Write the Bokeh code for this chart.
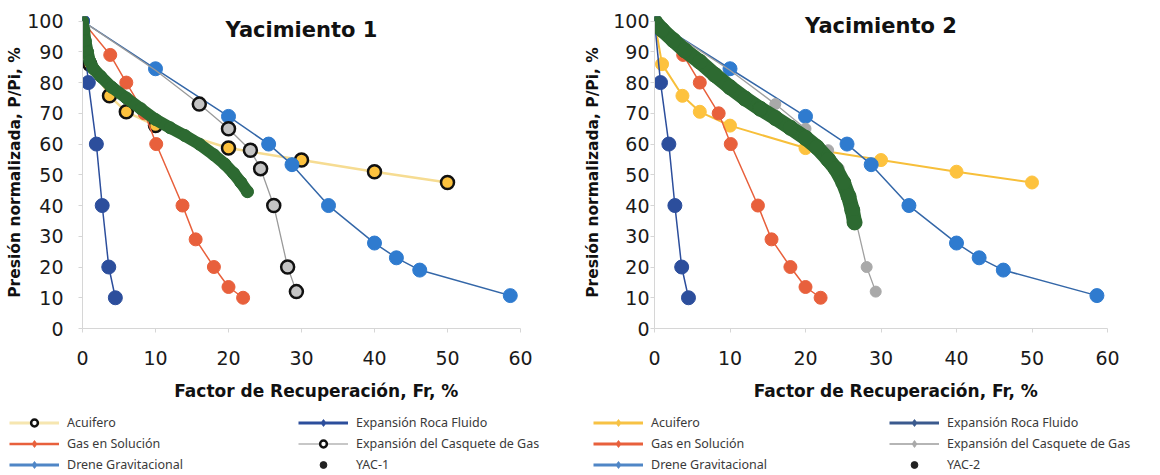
from bokeh.plotting import figure
from bokeh.layouts import row, column
from bokeh.models import Range1d, Legend, LegendItem, Label, FixedTicker
from bokeh.embed import file_html
from bokeh.resources import INLINE

# Curvas teóricas de mecanismos de empuje (Fr %, P/Pi %)
acuifero_fr = [0, 1, 3.7, 6, 10, 20, 30, 40, 50]
acuifero_p = [100, 86, 75.7, 70.5, 66, 58.7, 54.8, 51, 47.5]
gas_sol_fr = [0, 3.8, 6, 8.5, 10.1, 13.7, 15.5, 18, 20, 22]
gas_sol_p = [100, 89, 80, 70, 60, 40, 29, 20, 13.5, 10]
drene_fr = [0, 10, 20, 25.5, 28.7, 33.7, 40, 43, 46.2, 58.6]
drene_p = [100, 84.5, 69, 60, 53.3, 40, 27.8, 23, 19, 10.7]
roca_fr = [0, 0.8, 1.9, 2.7, 3.6, 4.5]
roca_p = [100, 80, 60, 40, 20, 10]
casquete_fr = [0, 10, 16, 20, 23, 24.4, 26.2, 28.1, 29.3]
casquete_p = [100, 84, 73, 65, 58, 52, 40, 20, 12]

# Historia de presión de cada yacimiento
yac1_fr = [0, 0.2, 0.4, 0.7, 1.0, 1.5, 2.5, 4, 6, 8, 10, 12, 14, 16, 18, 19.5, 20.7, 21.7, 22.6]
yac1_p = [100, 97, 93.5, 90, 87, 84.5, 82, 78.5, 75, 71.5, 68, 65.3, 62.8, 60, 56.5, 53.5, 50.5, 47.5, 44.5]
yac2_fr = [0, 1, 2.5, 4, 6, 8, 10, 12, 14, 16, 18, 20, 21.5, 23, 24, 25, 25.7, 26.2, 26.5]
yac2_p = [100, 97.2, 93.8, 90.5, 86.8, 82.5, 78.5, 74.8, 71.5, 68.5, 65.3, 62, 59, 55, 52, 47.5, 43, 38.5, 34.5]

x_ticks = [0, 10, 20, 30, 40, 50, 60]
y_ticks = [0, 10, 20, 30, 40, 50, 60, 70, 80, 90, 100]

FONT = "DejaVu Sans"
YELLOW = "#FDC23E"
RED = "#E8603C"
BLUE = "#2F7BCF"
NAVY = "#2C4E9C"
GRAY = "#C4C4C4"
GREEN = "#2D6A31"

CHART_H = 405
LEGEND_H = 70
NBSP = "\u00a0"


def base_figure(border_left, border_right, label_standoff, axis_label_standoff):
    p = figure(width=580, height=CHART_H, output_backend="svg", toolbar_location=None,
               x_range=Range1d(0, 60), y_range=Range1d(0, 101.5),
               min_border_left=border_left, min_border_right=border_right,
               min_border_top=16, min_border_bottom=CHART_H - 328)
    p.outline_line_color = None
    p.grid.visible = False
    p.background_fill_color = "white"
    p.border_fill_color = "white"
    p.xaxis.ticker = FixedTicker(ticks=x_ticks)
    p.yaxis.ticker = FixedTicker(ticks=y_ticks)
    p.yaxis.bounds = (0, 100)
    for ax in (p.xaxis, p.yaxis):
        ax.axis_line_color = "#d6d6d6"
        ax.major_tick_line_color = "#d6d6d6"
        ax.minor_tick_line_color = None
        ax.major_tick_in = 0
        ax.major_tick_out = 4
        ax.major_label_text_font = FONT
        ax.major_label_text_font_size = "19px"
        ax.major_label_text_color = "#1a1a1a"
        ax.axis_label_text_font = FONT
        ax.axis_label_text_font_style = "bold"
        ax.axis_label_text_color = "#111111"
    p.yaxis.axis_label = "Presión normalizada, P/Pi, %"
    p.yaxis.axis_label_text_font_size = "15.5px"
    p.yaxis.major_label_standoff = label_standoff
    p.yaxis.axis_label_standoff = axis_label_standoff
    # leading non-breaking spaces nudge the title a little right of the axis centre
    p.xaxis.axis_label = NBSP * 5 + "Factor de Recuperación, Fr, %"
    p.xaxis.axis_label_text_font_size = "17px"
    p.xaxis.major_label_standoff = 18
    p.xaxis.axis_label_standoff = 13
    return p


def legend_figure():
    f = figure(width=580, height=LEGEND_H, output_backend="svg", toolbar_location=None,
               x_range=Range1d(0, 1), y_range=Range1d(0, 1),
               x_axis_type=None, y_axis_type=None,
               min_border_left=0, min_border_right=0, min_border_top=0, min_border_bottom=0)
    f.outline_line_color = None
    f.grid.visible = False
    f.background_fill_color = "white"
    f.border_fill_color = "white"
    return f


# legend samples: renderers parked outside the visible range of the legend strip
OFF_X = [5, 6]
OFF_Y = [5, 6]


def proxy(f, line_color=None, line_width=2.5, marker=None, size=9, fill=None,
          outline=None, outline_width=1):
    rs = []
    if line_color:
        rs.append(f.line(OFF_X, OFF_Y, line_color=line_color, line_width=line_width))
    if marker:
        rs.append(f.scatter(OFF_X, OFF_Y, marker=marker, size=size, fill_color=fill,
                            line_color=outline, line_width=outline_width))
    return rs


def add_legends(f, items_a, items_b, xa, xb):
    for items, x in ((items_a, xa), (items_b, xb)):
        lg = Legend(items=items, location=(x, 2), orientation="vertical",
                    border_line_color=None, background_fill_alpha=0,
                    padding=0, margin=0, spacing=4, glyph_width=50, glyph_height=17,
                    label_height=17, label_standoff=8,
                    label_text_font="Noto Sans", label_text_font_size="12.5px",
                    label_text_color="#3a3a3a")
        f.add_layout(lg, "center")


# ---------------- Yacimiento 1 ----------------
p1 = base_figure(82, 60, 15, 0)
p1.line(acuifero_fr, acuifero_p, line_color="#F6DC92", line_width=2.5)
p1.scatter(acuifero_fr[1:], acuifero_p[1:], size=13, fill_color=YELLOW,
           line_color="#111111", line_width=2.5)
p1.line(gas_sol_fr, gas_sol_p, line_color=RED, line_width=1.5)
p1.scatter(gas_sol_fr, gas_sol_p, size=13, fill_color=RED, line_color=RED)
p1.line(drene_fr, drene_p, line_color="#3467A8", line_width=1.5)
p1.scatter(drene_fr, drene_p, size=14, fill_color=BLUE, line_color=BLUE)
p1.line(roca_fr, roca_p, line_color=NAVY, line_width=1.5)
p1.scatter(roca_fr, roca_p, size=14, fill_color=NAVY, line_color=NAVY)
p1.line(casquete_fr, casquete_p, line_color="#9a9a9a", line_width=1.3)
p1.scatter(casquete_fr[2:], casquete_p[2:], size=13, fill_color=GRAY,
           line_color="#111111", line_width=2.5)
p1.line(yac1_fr, yac1_p, line_color=GREEN, line_width=12, line_cap="round", line_join="round")
p1.scatter(yac1_fr, yac1_p, size=12, fill_color=GREEN, line_color=GREEN)
p1.add_layout(Label(x=30, y=97, text="Yacimiento 1", text_align="center",
                    text_baseline="middle", text_font=FONT, text_font_style="bold",
                    text_font_size="21px", text_color="#111111"))

g1 = legend_figure()
l1 = [
    LegendItem(label="Acuifero", renderers=proxy(g1, "#F6E6B0", 3, "circle", 8, "white", "#111111", 2.5)),
    LegendItem(label="Gas en Solución", renderers=proxy(g1, RED, 2.5, "diamond", 11, RED, RED)),
    LegendItem(label="Drene Gravitacional", renderers=proxy(g1, "#4F86C6", 3, "diamond", 11, "#4F86C6", "#4F86C6")),
]
l2 = [
    LegendItem(label="Expansión Roca Fluido", renderers=proxy(g1, NAVY, 3, "diamond", 11, NAVY, NAVY)),
    LegendItem(label="Expansión del Casquete de Gas", renderers=proxy(g1, "#b5b5b5", 1.5, "circle", 8, "white", "#111111", 2.5)),
    LegendItem(label="YAC-1", renderers=proxy(g1, None, 0, "circle", 6, "#222222", "#222222")),
]
add_legends(g1, l1, l2, 9, 298)

# ---------------- Yacimiento 2 ----------------
p2 = base_figure(74, 53, 1, 8)
p2.line(acuifero_fr, acuifero_p, line_color="#F7BF3A", line_width=2)
p2.scatter(acuifero_fr[1:], acuifero_p[1:], size=13, fill_color=YELLOW, line_color=YELLOW)
p2.line(gas_sol_fr, gas_sol_p, line_color=RED, line_width=1.5)
p2.scatter(gas_sol_fr, gas_sol_p, size=13, fill_color=RED, line_color=RED)
p2.line(drene_fr, drene_p, line_color="#3467A8", line_width=1.5)
p2.scatter(drene_fr, drene_p, size=14, fill_color=BLUE, line_color=BLUE)
p2.line(roca_fr, roca_p, line_color=NAVY, line_width=1.5)
p2.scatter(roca_fr, roca_p, size=14, fill_color=NAVY, line_color=NAVY)
p2.line(casquete_fr, casquete_p, line_color="#a0a0a0", line_width=1.3)
p2.scatter(casquete_fr[2:], casquete_p[2:], size=11, fill_color="#A9A9A9", line_color="#A9A9A9")
p2.line(yac2_fr, yac2_p, line_color=GREEN, line_width=15, line_cap="round", line_join="round")
p2.scatter(yac2_fr, yac2_p, size=15, fill_color=GREEN, line_color=GREEN)
p2.add_layout(Label(x=30, y=98.5, text="Yacimiento 2", text_align="center",
                    text_baseline="middle", text_font=FONT, text_font_style="bold",
                    text_font_size="21px", text_color="#111111"))

g2 = legend_figure()
r1 = [
    LegendItem(label="Acuifero", renderers=proxy(g2, "#F7C244", 3, "diamond", 10, "#F7C244", "#F7C244")),
    LegendItem(label="Gas en Solución", renderers=proxy(g2, RED, 3, "diamond", 12, RED, RED)),
    LegendItem(label="Drene Gravitacional", renderers=proxy(g2, "#4F86C6", 3, "diamond", 11, "#4F86C6", "#4F86C6")),
]
r2 = [
    LegendItem(label="Expansión Roca Fluido", renderers=proxy(g2, "#3B5A8E", 3, "diamond", 11, "#3B5A8E", "#3B5A8E")),
    LegendItem(label="Expansión del Casquete de Gas", renderers=proxy(g2, "#b5b5b5", 2, "diamond", 9, "#a9a9a9", "#a9a9a9")),
    LegendItem(label="YAC-2", renderers=proxy(g2, None, 0, "circle", 6, "#222222", "#222222")),
]
add_legends(g2, r1, r2, 13, 309)

layout = column(row(p1, p2), row(g1, g2))
open("out.html", "w").write(file_html(layout, INLINE))
